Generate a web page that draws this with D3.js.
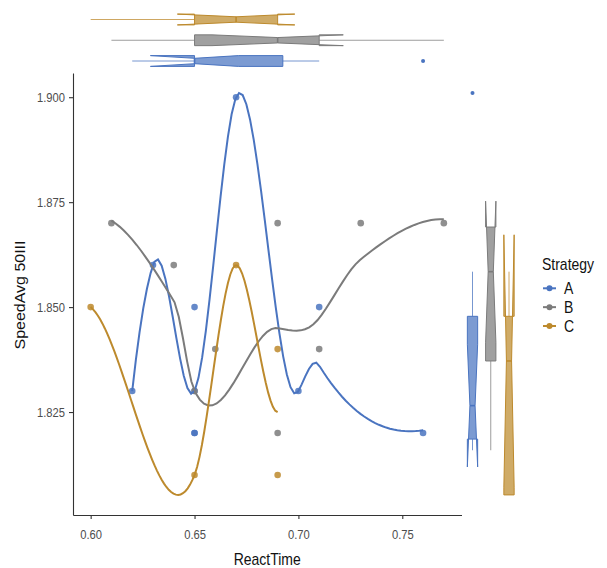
<!DOCTYPE html>
<html>
<head>
<meta charset="utf-8">
<script src="https://cdn.jsdelivr.net/npm/d3@7"></script>
<style>
  body { margin: 0; background: #fff; }
  svg { display: block; }
  text { font-family: "Liberation Sans", Arial, sans-serif; }
</style>
</head>
<body>
<svg id="chart" width="607" height="568"></svg>
<script>
const GROUPS = ["A", "B", "C"];
const REACT_A = [0.62, 0.63, 0.65, 0.65, 0.65, 0.65, 0.67, 0.70, 0.71, 0.76];
const SPEED_A = [1.83, 1.86, 1.85, 1.83, 1.82, 1.82, 1.90, 1.83, 1.85, 1.82];
const REACT_B = [0.61, 0.64, 0.65, 0.66, 0.69, 0.69, 0.71, 0.73, 0.77];
const SPEED_B = [1.87, 1.86, 1.83, 1.84, 1.87, 1.82, 1.84, 1.87, 1.87];
const REACT_C = [0.60, 0.65, 0.67, 0.69, 0.69];
const SPEED_C = [1.85, 1.81, 1.86, 1.84, 1.81];
const X_TICKS = [0.60, 0.65, 0.70, 0.75];
const Y_TICKS = [1.825, 1.850, 1.875, 1.900];

const COLORS = { A: "#4a74c0", B: "#7b7b7b", C: "#bd8a2d" };
const SPAN = 0.75;
const SX = 0.875; // the reference text is a bit narrower than it is tall

const series = [
  { key: "A", x: REACT_A, y: SPEED_A },
  { key: "B", x: REACT_B, y: SPEED_B },
  { key: "C", x: REACT_C, y: SPEED_C },
];

/* ---------- loess (degree 2, kd-tree vertices + cubic Hermite, like R) ---------- */
function solve3(M, v) {
  const a = M.map((r, i) => [...r, v[i]]);
  for (let c = 0; c < 3; c++) {
    let p = c;
    for (let r = c + 1; r < 3; r++) if (Math.abs(a[r][c]) > Math.abs(a[p][c])) p = r;
    [a[c], a[p]] = [a[p], a[c]];
    for (let r = c + 1; r < 3; r++) {
      const f = a[r][c] / a[c][c];
      for (let k = c; k < 4; k++) a[r][k] -= f * a[c][k];
    }
  }
  const out = [0, 0, 0];
  for (let r = 2; r >= 0; r--) {
    let s = a[r][3];
    for (let k = r + 1; k < 3; k++) s -= a[r][k] * out[k];
    out[r] = s / a[r][r];
  }
  return out;
}

function localFit(xs, ys, q, x0) {
  const d = xs.map((x) => Math.abs(x - x0));
  const h = d.slice().sort(d3.ascending)[q - 1];
  const rows = [], rhs = [];
  xs.forEach((x, i) => {
    const r = d[i] / h;
    if (r >= 1) return;
    const w = Math.sqrt(Math.pow(1 - r * r * r, 3));
    const u = x - x0;
    rows.push([w, w * u, w * u * u]);
    rhs.push(w * ys[i]);
  });
  // column equilibration, then a minimum-norm least-squares solve
  const nrm = [0, 1, 2].map((j) => Math.sqrt(d3.sum(rows, (r) => r[j] * r[j])) || 1);
  const A = rows.map((r) => r.map((v, j) => v / nrm[j]));
  const M = [0, 1, 2].map((j) => [0, 1, 2].map((k) => d3.sum(A, (r) => r[j] * r[k]) + (j === k ? 1e-11 : 0)));
  const b = [0, 1, 2].map((j) => d3.sum(A, (r, i) => r[j] * rhs[i]));
  const g = solve3(M, b);
  return { v: g[0] / nrm[0], s: g[1] / nrm[1] };
}

function kdVertices(xs, fc) {
  const s = xs.slice().sort(d3.ascending);
  const n = s.length;
  const mu = 0.005 * Math.max(s[n - 1] - s[0], 1e-10);
  const verts = [s[0] - mu, s[n - 1] + mu];
  const cells = [{ l: 0, u: n - 1, a: s[0] - mu, b: s[n - 1] + mu }];
  while (cells.length) {
    const c = cells.shift();
    if (c.u - c.l + 1 <= fc) continue;
    let m = Math.floor((c.l + c.u) / 2);
    let off = 0;
    while (m + off < c.u && m + off >= c.l) {
      if (s[m + off] === s[m + off + 1]) {
        off = -off;
        if (off >= 0) off += 1;
      } else {
        m += off;
        break;
      }
    }
    const v = s[m];
    if (v === c.a || v === c.b) continue;
    verts.push(v);
    cells.push({ l: c.l, u: m, a: c.a, b: v }, { l: m + 1, u: c.u, a: v, b: c.b });
  }
  return Array.from(new Set(verts)).sort(d3.ascending);
}

function loessCurve(xs, ys) {
  const n = xs.length;
  const q = Math.floor(n * SPAN);
  const fc = Math.floor(n * SPAN * 0.2);
  const vx = kdVertices(xs, fc);
  const vf = vx.map((x) => localFit(xs, ys, q, x));
  const [lo, hi] = d3.extent(xs);
  return d3.range(80).map((i) => {
    const x = lo + ((hi - lo) * i) / 79;
    let j = d3.bisectRight(vx, x) - 1;
    j = Math.max(0, Math.min(vx.length - 2, j));
    const w = vx[j + 1] - vx[j];
    const t = (x - vx[j]) / w;
    const y =
      (1 - t) * (1 - t) * (1 + 2 * t) * vf[j].v +
      t * t * (3 - 2 * t) * vf[j + 1].v +
      t * (1 - t) * (1 - t) * w * vf[j].s -
      t * t * (1 - t) * w * vf[j + 1].s;
    return [x, y];
  });
}

function boxStats(v) {
  const s = v.slice().sort(d3.ascending);
  const q1 = d3.quantileSorted(s, 0.25), med = d3.quantileSorted(s, 0.5), q3 = d3.quantileSorted(s, 0.75);
  const iqr = q3 - q1, eps = 1e-9;
  const inside = s.filter((x) => x >= q1 - 1.5 * iqr - eps && x <= q3 + 1.5 * iqr + eps);
  const notch = (1.58 * iqr) / Math.sqrt(s.length);
  return {
    q1, med, q3,
    lo: d3.min(inside), hi: d3.max(inside),
    nl: med - notch, nu: med + notch,
    out: s.filter((x) => !inside.includes(x)),
  };
}

/* ---------- build ---------- */
series.forEach((d) => {
  d.curve = loessCurve(d.x, d.y);
  d.bx = boxStats(d.x);
  d.by = boxStats(d.y);
});

const P = { left: 73, right: 461.5, top: 73, bottom: 515 };

function expand([a, b], f = 0.05) {
  const m = (b - a) * f;
  return [a - m, b + m];
}
const allX = series.flatMap((d) => d.x);
const allY = series.flatMap((d) => d.y);
const allYSmooth = allY.concat(series.flatMap((d) => d.curve.map((p) => p[1])));

const x = d3.scaleLinear().domain(expand(d3.extent(allX))).range([P.left, P.right]);
const y = d3.scaleLinear().domain(expand(d3.extent(allYSmooth))).range([P.bottom, P.top]);
const yMarg = d3.scaleLinear().domain(expand(d3.extent(allY))).range([P.bottom, P.top]);
const topPos = d3.scalePoint().domain(GROUPS).range([61, 19.5]);
const rightPos = d3.scalePoint().domain(GROUPS).range([472.5, 509]);

const svg = d3.select("#chart");

// points
const gPts = svg.append("g");
series.forEach((d) => {
  gPts.selectAll(null)
    .data(d.x.map((v, i) => [v, d.y[i]]))
    .join("circle")
    .attr("cx", (p) => x(p[0]))
    .attr("cy", (p) => y(p[1]))
    .attr("r", 3.3)
    .attr("fill", COLORS[d.key])
    .attr("fill-opacity", 0.85);
});

// smooth lines
const line = d3.line().x((p) => x(p[0])).y((p) => y(p[1]));
svg.append("g")
  .selectAll("path")
  .data(series)
  .join("path")
  .attr("d", (d) => line(d.curve))
  .attr("fill", "none")
  .attr("stroke", (d) => COLORS[d.key])
  .attr("stroke-width", 2);

// axes
const xAxis = svg.append("g")
  .attr("transform", `translate(0,${P.bottom})`)
  .call(d3.axisBottom(x).tickValues(X_TICKS).tickFormat(d3.format(".2f")).tickSize(4).tickSizeOuter(0));
const yAxis = svg.append("g")
  .attr("transform", `translate(${P.left},0)`)
  .call(d3.axisLeft(y).tickValues(Y_TICKS).tickFormat(d3.format(".3f")).tickSize(4).tickSizeOuter(0));
[xAxis, yAxis].forEach((g) => {
  g.select(".domain").attr("stroke", "#333").attr("stroke-width", 1.1);
  g.selectAll(".tick line").attr("stroke", "#333").attr("stroke-width", 1.1);
  g.selectAll(".tick text").attr("fill", "#4d4d4d").style("font-size", "12.8px")
    .attr("font-family", null).attr("transform", `scale(${SX},1)`);
});
xAxis.selectAll(".tick text").attr("y", 15).attr("dy", "0.71em");
yAxis.selectAll(".tick text").attr("x", -9.2).attr("dy", "0.35em");

// axis titles
svg.append("text")
  .attr("transform", `translate(${(P.left + P.right) / 2},565) scale(${SX},1)`)
  .attr("text-anchor", "middle").style("font-size", "16px").attr("fill", "#111")
  .text("ReactTime");
svg.append("text")
  .attr("transform", `translate(25,${(P.top + P.bottom) / 2 + 1}) scale(${SX},1) rotate(-90)`)
  .attr("text-anchor", "middle").style("font-size", "16px").attr("fill", "#111")
  .text("SpeedAvg 50III");

// marginal notched boxplots
function drawBox(g, st, pos, hw, val, horiz, color) {
  const pt = (v, off) => (horiz ? [val(v), pos + off] : [pos + off, val(v)]);
  const ind = hw * 0.5;
  const poly = [
    pt(st.q3, -hw), pt(st.nu, -hw), pt(st.med, -hw + ind), pt(st.nl, -hw), pt(st.q1, -hw),
    pt(st.q1, hw), pt(st.nl, hw), pt(st.med, hw - ind), pt(st.nu, hw), pt(st.q3, hw),
  ];
  const seg = (a, b) =>
    g.append("line").attr("x1", a[0]).attr("y1", a[1]).attr("x2", b[0]).attr("y2", b[1])
      .attr("stroke", color).attr("stroke-width", 1).attr("stroke-opacity", 0.75);
  seg(pt(st.q1, 0), pt(st.lo, 0));
  seg(pt(st.q3, 0), pt(st.hi, 0));
  g.append("path")
    .attr("d", "M" + poly.map((p) => p.join(",")).join("L") + "Z")
    .attr("fill", color).attr("fill-opacity", 0.72)
    .attr("stroke", color).attr("stroke-width", 1);
  const m1 = pt(st.med, -hw + ind), m2 = pt(st.med, hw - ind);
  g.append("line").attr("x1", m1[0]).attr("y1", m1[1]).attr("x2", m2[0]).attr("y2", m2[1])
    .attr("stroke", color).attr("stroke-width", 1.6);
  g.selectAll(null).data(st.out).join("circle")
    .attr("cx", (v) => pt(v, 0)[0]).attr("cy", (v) => pt(v, 0)[1])
    .attr("r", 2).attr("fill", color);
}
const gTop = svg.append("g");
const gRight = svg.append("g");
series.forEach((d) => {
  drawBox(gTop, d.bx, topPos(d.key), 5.4, x, true, COLORS[d.key]);
  drawBox(gRight, d.by, rightPos(d.key), 5.15, yMarg, false, COLORS[d.key]);
});

// legend
const legend = svg.append("g").attr("transform", "translate(542,0)");
legend.append("text")
  .attr("transform", `translate(0,270) scale(${SX},1)`)
  .style("font-size", "16px").attr("fill", "#111").text("Strategy");
const rowY = d3.scalePoint().domain(GROUPS).range([288.3, 326]);
const key = legend.selectAll("g.key").data(GROUPS).join("g").attr("class", "key")
  .attr("transform", (k) => `translate(0,${rowY(k)})`);
key.append("line").attr("x1", 1).attr("x2", 14).attr("stroke", (k) => COLORS[k]).attr("stroke-width", 2);
key.append("circle").attr("cx", 7.5).attr("r", 3).attr("fill", (k) => COLORS[k]);
key.append("text")
  .attr("transform", `translate(22,5.7) scale(${SX},1)`)
  .style("font-size", "16px").attr("fill", "#111").text((k) => k);
</script>
</body>
</html>
